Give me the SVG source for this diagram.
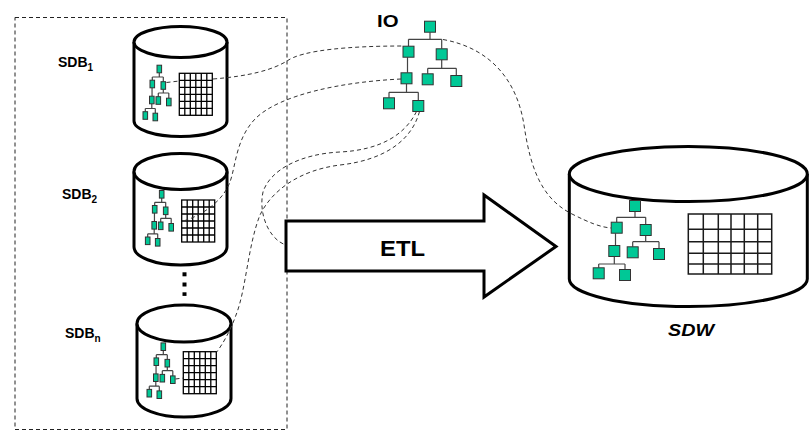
<svg xmlns="http://www.w3.org/2000/svg" xmlns:xlink="http://www.w3.org/1999/xlink" width="811" height="433" viewBox="0 0 811 433">
  <style>
    .cyl { fill: #ffffff; stroke: #000000; stroke-width: 3; }
    .grid { fill: #ffffff; stroke: #000000; stroke-width: 1.3; }
    .bgrid { fill: #ffffff; stroke: #1a1a1a; stroke-width: 1.5; }
    .tn { fill: #00c896; stroke: #333333; stroke-width: 1; }
    .tl { stroke: #444444; stroke-width: 1.2; fill: none; }
    .link { fill: none; stroke: #333333; stroke-width: 1; stroke-dasharray: 4 3; }
    .box { fill: none; stroke: #222222; stroke-width: 1; stroke-dasharray: 4 3; }
    .lbl { font-family: "Liberation Sans", Arial, sans-serif; font-weight: bold; fill: #000000; }
  </style>
  <defs>
    <!-- small schema tree used inside each source database -->
    <g id="stree">
      <path class="tl" d="M0,3.8 V8 M-7,8 H4 M-7,8 V11.2 M4,8 V12.7 M-7.25,18.8 V27.2 M4,20.3 V24 M-1,24 H9.5 M-1,24 V27.7 M9.5,24 V29.2 M-7.5,34.8 V39.5 M-14,39.5 H-4 M-14,39.5 V42.7 M-4,39.5 V44.2"/>
      <rect class="tn" x="-2.3" y="-3.8" width="4.6" height="7.6"/>
      <rect class="tn" x="-9.3" y="11.2" width="4.6" height="7.6"/>
      <rect class="tn" x="1.7" y="12.7" width="4.6" height="7.6"/>
      <rect class="tn" x="-9.8" y="27.2" width="4.6" height="7.6"/>
      <rect class="tn" x="-3.3" y="27.7" width="4.6" height="7.6"/>
      <rect class="tn" x="7.2" y="29.2" width="4.6" height="7.6"/>
      <rect class="tn" x="-16.3" y="42.7" width="4.6" height="7.6"/>
      <rect class="tn" x="-6.3" y="44.2" width="4.6" height="7.6"/>
    </g>
    <!-- small table grid, 6 x 6 cells -->
    <g id="sgrid">
      <rect class="grid" x="0" y="0" width="33" height="42"/>
      <path class="grid" d="M5.5,0 V42 M11,0 V42 M16.5,0 V42 M22,0 V42 M27.5,0 V42 M0,7 H33 M0,14 H33 M0,21 H33 M0,28 H33 M0,35 H33"/>
    </g>
  </defs>

  <!-- source area frame -->
  <rect class="box" x="15" y="17.5" width="272" height="412"/>

  <!-- source database 1 -->
  <g id="sdb1">
    <path class="cyl" d="M134,42 V121 A46.5,15.5 0 0 0 227,121 V42"/>
    <ellipse class="cyl" cx="180.5" cy="42" rx="46.5" ry="15.5"/>
    <use xlink:href="#stree" transform="translate(159.3,69)"/>
    <use xlink:href="#sgrid" transform="translate(179.3,73.3)"/>
    <text class="lbl" x="58" y="67" font-size="14">SDB<tspan font-size="10" dy="4">1</tspan></text>
  </g>

  <!-- source database 2 -->
  <g id="sdb2">
    <path class="cyl" d="M134,171.5 V247 A46.5,18 0 0 0 227,247 V171.5"/>
    <ellipse class="cyl" cx="180.5" cy="171.5" rx="46.5" ry="18"/>
    <use xlink:href="#stree" transform="translate(161.7,194.3)"/>
    <use xlink:href="#sgrid" transform="translate(181.7,200)"/>
    <text class="lbl" x="62" y="199" font-size="14">SDB<tspan font-size="10" dy="4">2</tspan></text>
  </g>

  <!-- ellipsis between sources -->
  <g id="more">
    <rect x="182.5" y="272.3" width="4" height="4" fill="#000000"/>
    <rect x="182.5" y="282.5" width="4" height="4" fill="#000000"/>
    <rect x="182.5" y="292.3" width="4" height="3.6" fill="#000000"/>
  </g>

  <!-- source database n -->
  <g id="sdbn">
    <path class="cyl" d="M137,323.5 V398.5 A47,18.5 0 0 0 231,398.5 V323.5"/>
    <ellipse class="cyl" cx="184" cy="323.5" rx="47" ry="18.5"/>
    <use xlink:href="#stree" transform="translate(163.3,346.7)"/>
    <use xlink:href="#sgrid" transform="translate(183.3,351.7)"/>
    <text class="lbl" x="65" y="338" font-size="14">SDB<tspan font-size="10" dy="4">n</tspan></text>
  </g>

  <!-- integrated ontology -->
  <g id="io">
    <text class="lbl" x="377" y="26.7" font-size="16.5" textLength="21.5" lengthAdjust="spacingAndGlyphs">IO</text>
    <path class="tl" d="M430,32.2 V39.3 M408.5,39.3 H441.7 M408.5,39.3 V46.2 M441.7,39.3 V48.8 M407.5,57.2 V72.8 M441.7,59.8 V68.3 M427.7,68.3 H456.3 M427.7,68.3 V73.8 M456.3,68.3 V75.5 M406.5,83.8 V92.3 M389,92.3 H418.3 M389,92.3 V97.8 M418.3,92.3 V100.5" stroke-width="1.5"/>
    <rect class="tn" x="424.5" y="21.2" width="11" height="11"/>
    <rect class="tn" x="403" y="46.2" width="11" height="11"/>
    <rect class="tn" x="436.2" y="48.8" width="11" height="11"/>
    <rect class="tn" x="401" y="72.8" width="11" height="11"/>
    <rect class="tn" x="422.2" y="73.8" width="11" height="11"/>
    <rect class="tn" x="450.8" y="75.5" width="11" height="11"/>
    <rect class="tn" x="383.5" y="97.8" width="11" height="11"/>
    <rect class="tn" x="412.8" y="100.5" width="11" height="11"/>
  </g>

  <!-- data warehouse -->
  <g id="sdw">
    <path class="cyl" d="M569.3,174 V279 A119,27.5 0 0 0 807.3,279 V174"/>
    <ellipse class="cyl" cx="688.3" cy="174" rx="119" ry="27.5"/>
    <path class="tl" d="M635,211.5 V217.3 M616.7,217.3 H645.7 M616.7,217.3 V222.2 M645.7,217.3 V224.5 M615.5,233.2 V245.5 M645.7,235.5 V241.7 M632.7,241.7 H659 M632.7,241.7 V246.8 M659,241.7 V248.5 M614.3,256.5 V264 M598.7,264 H625 M598.7,264 V267.8 M625,264 V269.5" stroke-width="1.5"/>
    <rect class="tn" x="629.5" y="200.5" width="11" height="11"/>
    <rect class="tn" x="611.2" y="222.2" width="11" height="11"/>
    <rect class="tn" x="640.2" y="224.5" width="11" height="11"/>
    <rect class="tn" x="608.8" y="245.5" width="11" height="11"/>
    <rect class="tn" x="627.2" y="246.8" width="11" height="11"/>
    <rect class="tn" x="653.5" y="248.5" width="11" height="11"/>
    <rect class="tn" x="593.2" y="267.8" width="11" height="11"/>
    <rect class="tn" x="619.5" y="269.5" width="11" height="11"/>
    <rect class="bgrid" x="688.3" y="214" width="83.4" height="60"/>
    <path class="bgrid" d="M703.3,214 V274 M718.3,214 V274 M731,214 V274 M744.3,214 V274 M757.7,214 V274 M688.3,229.3 H771.7 M688.3,241.7 H771.7 M688.3,253.3 H771.7 M688.3,264 H771.7"/>
    <text class="lbl" x="668" y="336" font-size="17" font-style="italic" textLength="46" lengthAdjust="spacingAndGlyphs">SDW</text>
  </g>

  <!-- mapping links -->
  <g id="links">
    <path class="link" d="M166.5,82.5 L179.3,81"/>
    <path class="link" d="M175.5,379 L183.3,378"/>
    <path class="link" d="M213,79 C250,76 272,70 287,61 C302,50 350,46 403,46"/>
    <path class="link" d="M401,79 C340,82 280,95 256,118 C236,138 236,165 230,182 C222,203 200,216 183.5,221"/>
    <path class="link" d="M416.5,111.5 C405,135 380,150 340,152 C300,154 270,170 263,192 C258,215 270,240 286,245"/>
    <path class="link" d="M419.5,111.5 C412,140 385,160 340,165 C300,170 272,190 260,215 C248,245 246,290 236,315 C230,332 222,345 216.7,352"/>
    <path class="link" d="M443,39.5 C490,48 517,80 524,125 C530,165 540,198 572,214 C590,223 600,227 611,228"/>
  </g>

  <!-- ETL process arrow -->
  <g id="etl">
    <polygon points="286,221 484,221 484,195 556,246.5 484,297 484,271 286,271" fill="#ffffff" stroke="#000000" stroke-width="3" stroke-linejoin="miter"/>
    <text class="lbl" x="380" y="256" font-size="22" textLength="45" lengthAdjust="spacingAndGlyphs">ETL</text>
  </g>
</svg>
